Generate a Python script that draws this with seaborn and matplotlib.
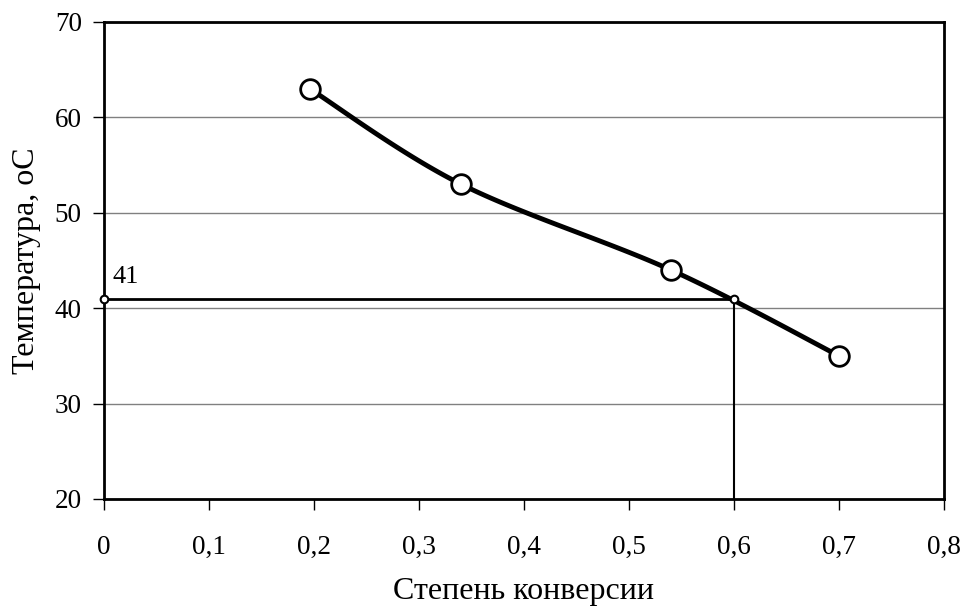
import numpy as np
import matplotlib
matplotlib.use("Agg")
import matplotlib.pyplot as plt
import seaborn as sns

# Temperature vs. conversion degree
conversion = [0.196, 0.34, 0.54, 0.70]
temperature = [63, 53, 44, 35]

# Reading at the target temperature
target_temp = 41
target_conv = 0.6

x_ticks = [0, 0.1, 0.2, 0.3, 0.4, 0.5, 0.6, 0.7, 0.8]
y_ticks = [20, 30, 40, 50, 60, 70]

sns.set_theme(style="white")
plt.rcParams["font.family"] = ["Liberation Serif", "DejaVu Serif"]


def smooth(xs, ys, n=40):
    """Catmull-Rom smoothing through the given points."""
    p = np.column_stack([xs, ys]).astype(float)
    p = np.vstack([p[0], p, p[-1]])
    out = []
    for i in range(1, len(p) - 2):
        p0, p1, p2, p3 = p[i - 1], p[i], p[i + 1], p[i + 2]
        t = np.linspace(0, 1, n)[:, None]
        seg = 0.5 * ((2 * p1) + (-p0 + p2) * t
                     + (2 * p0 - 5 * p1 + 4 * p2 - p3) * t ** 2
                     + (-p0 + 3 * p1 - 3 * p2 + p3) * t ** 3)
        out.append(seg if i == 1 else seg[1:])
    seg = np.vstack(out)
    return seg[:, 0], seg[:, 1]


fig = plt.figure(figsize=(9.61, 6.06), dpi=100)
ax = fig.add_axes([0.1082, 0.1766, 0.8741, 0.7871])

ax.set_xlim(0, 0.8)
ax.set_ylim(20, 70)
ax.set_yticks(y_ticks)
ax.set_xticks(x_ticks)
ax.set_xticklabels([("%g" % v).replace(".", ",") for v in x_ticks])
ax.yaxis.grid(True, color="#808080", linewidth=1.0)
ax.xaxis.grid(False)
ax.set_axisbelow(True)

# Guide lines to the reading
ax.plot([0, target_conv], [target_temp, target_temp], color="black", lw=2.0, zorder=3)
ax.plot([target_conv, target_conv], [20, target_temp], color="black", lw=1.5, zorder=3)

sx, sy = smooth(conversion, temperature)
sns.lineplot(x=sx, y=sy, ax=ax, color="black", linewidth=3.5, sort=False,
             estimator=None, zorder=4)
sns.scatterplot(x=conversion, y=temperature, ax=ax, s=200, color="white",
                edgecolor="black", linewidth=2.0, zorder=5)
ax.plot([0, target_conv], [target_temp, target_temp], linestyle="none",
        marker="o", markersize=5.5, markerfacecolor="white",
        markeredgecolor="black", markeredgewidth=1.5, zorder=6, clip_on=False)

ax.text(0.008, target_temp + 1.1, str(target_temp), fontsize=19,
        ha="left", va="bottom", color="black")

for s in ax.spines.values():
    s.set_color("black")
    s.set_linewidth(2.0)

ax.tick_params(axis="both", which="both", direction="out", length=8,
               width=1.0, color="black", labelsize=19.5, labelcolor="black")
ax.tick_params(axis="x", pad=18)
ax.tick_params(axis="y", pad=8)
ax.xaxis.set_ticks_position("bottom")
ax.yaxis.set_ticks_position("left")

ax.set_xlabel("Степень конверсии", fontsize=23, labelpad=12, color="black")
ax.set_ylabel("Температура, оС", fontsize=23, labelpad=10, color="black")

fig.savefig("out.png", dpi=100, facecolor="white")
